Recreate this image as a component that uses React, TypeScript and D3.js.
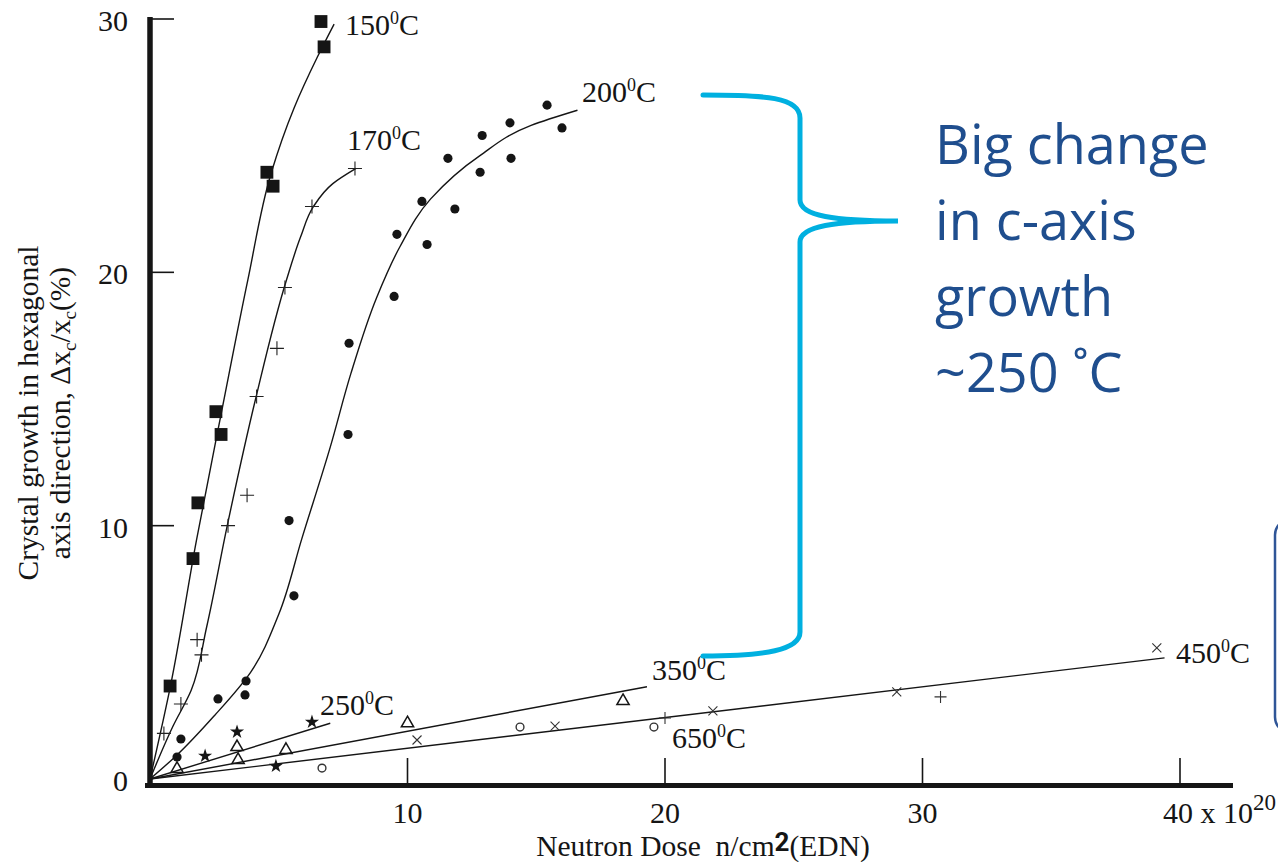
import * as d3 from 'd3';

// measured points, dose in units of 10^20 n/cm2, growth in %
const sq150X = [0.78, 1.67, 1.86, 2.56, 2.76, 4.54, 4.78, 6.64, 6.76];
const sq150Y = [3.67, 8.7, 10.9, 14.5, 13.6, 23.95, 23.4, 29.9, 28.9];

const plus170X = [0.54, 1.2, 1.83, 2.0, 3.03, 3.77, 4.14, 4.93, 5.24, 6.29, 7.96];
const plus170Y = [1.8, 2.96, 5.5, 4.9, 10.0, 11.2, 15.1, 17.0, 19.4, 22.6, 24.1];

const dot200X = [1.05, 1.2, 2.64, 3.69, 3.73, 5.59, 5.4, 7.69, 7.73, 9.48, 9.59, 10.56, 10.76, 11.57, 11.84, 12.82, 12.9, 13.98, 14.02, 15.42, 16.0];
const dot200Y = [0.87, 1.58, 3.16, 3.32, 3.87, 7.23, 10.2, 13.6, 17.2, 19.05, 21.5, 22.8, 21.1, 24.5, 22.5, 23.95, 25.4, 25.9, 24.5, 26.6, 25.7];

const star250X = [2.14, 3.38, 4.89, 6.29];
const star250Y = [0.91, 1.86, 0.51, 2.25];

const tri350X = [1.05, 3.38, 3.42, 5.28, 10.0, 18.37];
const tri350Y = [0.4, 1.26, 0.75, 1.15, 2.2, 3.08];

const circ650X = [6.68, 14.37, 19.57];
const circ650Y = [0.43, 2.05, 2.05];

const x450X = [10.37, 15.73, 21.86, 29.0, 39.1];
const x450Y = [1.54, 2.09, 2.69, 3.44, 5.18];

const plus450X = [20.0, 30.7];
const plus450Y = [2.41, 3.24];

// hand-drawn fit curves
const fit150X = [0, 0.8, 1.8, 2.8, 3.8, 4.7, 5.6, 6.5, 7.15];
const fit150Y = [0, 3.7, 9.4, 14.6, 19.7, 23.9, 26.5, 28.5, 29.8];
const fit170X = [0, 0.9, 1.6, 2.2, 3.0, 4.1, 5.3, 5.85, 6.35, 7.1, 8.0];
const fit170Y = [0, 2.1, 3.5, 6.0, 10.0, 15.0, 19.7, 21.4, 22.6, 23.5, 24.1];
const fit200X = [0, 1.0, 2.5, 3.9, 5.0, 5.9, 7.0, 7.8, 8.8, 9.7, 10.9, 12.8, 14.8, 16.6];
const fit200Y = [0, 0.9, 2.5, 4.2, 6.5, 9.5, 13.1, 16.0, 19.0, 21.0, 22.9, 24.6, 25.8, 26.4];
const fit250X = [0, 7.0];
const fit250Y = [0, 2.2];
const fit350X = [0, 19.3];
const fit350Y = [0, 3.64];
const fit450X = [0, 39.4];
const fit450Y = [0, 4.78];

const xTicks = [10, 20, 30, 40];
const yTicks = [0, 10, 20, 30];

const tempLabels = [
  { t: '150', x: 345, y: 35 },
  { t: '170', x: 347, y: 150 },
  { t: '200', x: 582, y: 102 },
  { t: '250', x: 320, y: 715 },
  { t: '350', x: 652, y: 680 },
  { t: '650', x: 672, y: 748 },
  { t: '450', x: 1176, y: 663 },
];

const noteLines = ['Big change', 'in c-axis', 'growth', '~250 \u02daC'];

const zip = (xs: number[], ys: number[]) => xs.map((x, i) => [x, ys[i]] as [number, number]);

// thin stroked symbols
const plusType = { draw(ctx: any, size: number) { const r = Math.sqrt(size) / 2; ctx.moveTo(-r, 0); ctx.lineTo(r, 0); ctx.moveTo(0, -r); ctx.lineTo(0, r); } };
const timesType = { draw(ctx: any, size: number) { const r = Math.sqrt(size) / 2; ctx.moveTo(-r, -r); ctx.lineTo(r, r); ctx.moveTo(-r, r); ctx.lineTo(r, -r); } };
const triType = { draw(ctx: any, size: number) { const s = Math.sqrt(size); const h = s * Math.sqrt(3) / 2; ctx.moveTo(0, -h * 2 / 3); ctx.lineTo(s / 2, h / 3); ctx.lineTo(-s / 2, h / 3); ctx.closePath(); } };

const SERIF = '"Liberation Serif", "Times New Roman", serif';
const INK = '#151515';

export default function App() {
  const width = 1278;
  const height = 862;

  const xScale = d3.scaleLinear().domain([0, 40]).range([150, 1180]);
  const yScale = d3.scaleLinear().domain([0, 30]).range([779, 19]);

  const smooth = d3.line<[number, number]>()
    .x(d => xScale(d[0]))
    .y(d => yScale(d[1]))
    .curve(d3.curveMonotoneY);
  const straight = d3.line<[number, number]>()
    .x(d => xScale(d[0]))
    .y(d => yScale(d[1]));

  const squarePath = d3.symbol().type(d3.symbolSquare).size(165)()!;
  const dotPath = d3.symbol().type(d3.symbolCircle).size(66)()!;
  const starPath = d3.symbol().type(d3.symbolStar).size(62)()!;
  const circlePath = d3.symbol().type(d3.symbolCircle).size(48)()!;
  const plusBig = d3.symbol().type(plusType as any).size(196)()!;
  const plusSmall = d3.symbol().type(plusType as any).size(144)()!;
  const timesPath = d3.symbol().type(timesType as any).size(81)()!;
  const triPath = d3.symbol().type(triType as any).size(150)()!;

  const marks = (xs: number[], ys: number[], d: string, fill: string, stroke: string, sw: number, key: string) =>
    zip(xs, ys).map((p, i) => (
      <path key={key + i} d={d} transform={`translate(${xScale(p[0])},${yScale(p[1])})`}
        fill={fill} stroke={stroke} strokeWidth={sw} />
    ));

  return (
    <svg width={width} height={height} style={{ position: 'absolute', left: 0, top: 0, background: '#fff' }}>
      <rect width={width} height={height} fill="#fff" />

      {/* fit curves */}
      <g fill="none" stroke={INK} strokeWidth={1.4}>
        <path d={smooth(zip(fit150X, fit150Y))!} />
        <path d={smooth(zip(fit170X, fit170Y))!} />
        <path d={smooth(zip(fit200X, fit200Y))!} />
        <path d={straight(zip(fit250X, fit250Y))!} />
        <path d={straight(zip(fit350X, fit350Y))!} />
        <path d={straight(zip(fit450X, fit450Y))!} />
      </g>

      {/* markers */}
      {marks(sq150X, sq150Y, squarePath, INK, 'none', 0, 's')}
      {marks(plus170X, plus170Y, plusBig, 'none', '#222', 1.1, 'p')}
      {marks(dot200X, dot200Y, dotPath, INK, 'none', 0, 'd')}
      {marks(star250X, star250Y, starPath, INK, 'none', 0, 'st')}
      {marks(tri350X, tri350Y, triPath, 'none', INK, 1.5, 't')}
      {marks(circ650X, circ650Y, circlePath, 'none', '#333', 1.4, 'c')}
      {marks(x450X, x450Y, timesPath, 'none', '#333', 1.1, 'x')}
      {marks(plus450X, plus450Y, plusSmall, 'none', '#333', 1.1, 'q')}

      {/* axes */}
      <line x1={150} x2={150} y1={17} y2={788} stroke={INK} strokeWidth={5.5} />
      <line x1={145} x2={1233} y1={785.5} y2={785.5} stroke={INK} strokeWidth={5} />
      {yTicks.filter(t => t > 0).map(t => (
        <line key={'yt' + t} x1={150} x2={174} y1={yScale(t)} y2={yScale(t)} stroke={INK} strokeWidth={1.6} />
      ))}
      {xTicks.map(t => (
        <line key={'xt' + t} x1={xScale(t)} x2={xScale(t)} y1={785} y2={758} stroke={INK} strokeWidth={1.6} />
      ))}
      <g fontFamily={SERIF} fontSize={30} fill={INK}>
        {yTicks.map(t => (
          <text key={'yl' + t} x={128} y={yScale(t) + 12} textAnchor="end">{t}</text>
        ))}
        {xTicks.map(t => t < 40 ? (
          <text key={'xl' + t} x={xScale(t)} y={823} textAnchor="middle">{t}</text>
        ) : (
          <text key={'xl' + t} x={xScale(t) - 17} y={823}>
            {t} x 10<tspan fontSize={23} dy={-13}>20</tspan>
          </text>
        ))}
      </g>

      {/* axis titles */}
      <text x={703} y={856} textAnchor="middle" fontFamily={SERIF} fontSize={29.5} fill={INK} style={{ whiteSpace: 'pre' }}>
        {'Neutron Dose  n/cm'}<tspan fontFamily="Roboto, sans-serif" fontWeight="bold" fontSize={26} dy={-5}>2</tspan><tspan dy={5}>(EDN)</tspan>
      </text>
      <g transform="translate(38,413) rotate(-90)" fontFamily={SERIF} fontSize={29.5} fill={INK}>
        <text x={0} y={0} textAnchor="middle">Crystal growth in hexagonal</text>
        <text x={0} y={32} textAnchor="middle">
          axis direction, Δx<tspan fontSize={19} dy={6}>c</tspan><tspan dy={-6}>/x</tspan><tspan fontSize={19} dy={6}>c</tspan><tspan dy={-6}>(%)</tspan>
        </text>
      </g>

      {/* temperature labels */}
      <g fontFamily={SERIF} fontSize={30} fill={INK}>
        {tempLabels.map(l => (
          <text key={l.t} x={l.x} y={l.y}>
            {l.t}<tspan fontSize={18} dy={-11}>0</tspan><tspan dy={11}>C</tspan>
          </text>
        ))}
      </g>

      {/* brace annotation */}
      <path d="M703,95 C765,95 800,97 800,118 L800,200 C800,216 835,221 898,221 C835,221 800,226 800,242 L800,632 C800,650 765,656 703,656"
        fill="none" stroke="#00B0E0" strokeWidth={5} strokeLinecap="round" />
      <g fontFamily='"Open Sans", sans-serif' fontSize={54} fill="#1F4E8E">
        {noteLines.map((s, i) => (
          <text key={i} x={935} y={164 + i * 76}>{s}</text>
        ))}
      </g>

      {/* clipped box at right edge */}
      <rect x={1275} y={519} width={60} height={214} rx={16} fill="#fff" stroke="#2F5597" strokeWidth={2.5} />
    </svg>
  );
}
